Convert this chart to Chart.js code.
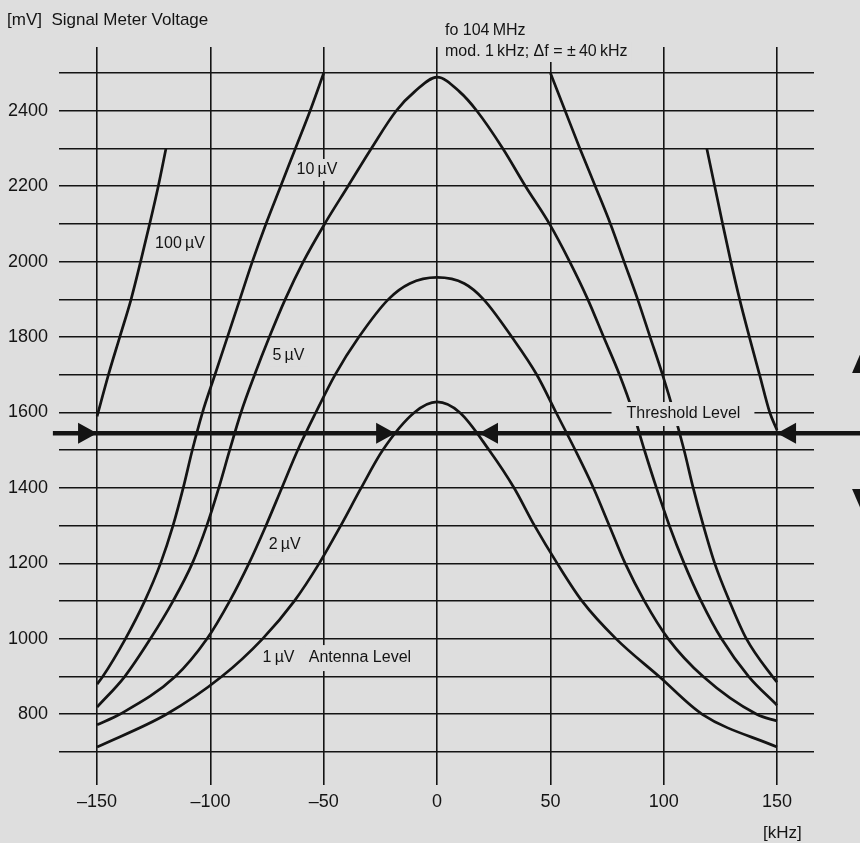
<!DOCTYPE html>
<html>
<head>
<meta charset="utf-8">
<title>Signal Meter Voltage</title>
<script src="https://cdn.jsdelivr.net/npm/chart.js@4.4.1/dist/chart.umd.min.js"></script>
<style>
  html, body { margin: 0; padding: 0; background: #dedede; }
  #chart { display: block; }
</style>
</head>
<body>
<canvas id="chart" width="860" height="843"></canvas>
<script>
// axis ticks
const xTicks = [-150, -100, -50, 0, 50, 100, 150];
const yGrid = [700, 800, 900, 1000, 1100, 1200, 1300, 1400, 1500, 1600, 1700, 1800, 1900, 2000, 2100, 2200, 2300, 2400, 2500];
const yLabels = [800, 1000, 1200, 1400, 1600, 1800, 2000, 2200, 2400];

// curves as (kHz, mV) pairs
const uv1Khz = [-150, -119.4, -95, -77, -63, -52, -42.5, -33.5, -24, -10, 0, 10, 23, 34, 43, 53, 64, 79, 98, 117, 150];
const uv1Mv = [713, 800, 900, 1000, 1100, 1200, 1300, 1400, 1500, 1600, 1628, 1600, 1500, 1400, 1300, 1200, 1100, 1000, 900, 800, 713];

const uv2Khz = [-150, -140, -115.5, -101.5, -91.5, -83, -75.5, -68.5, -61.5, -53.5, -45, -34.5, -21.5, -12, 0, 12, 20.5, 33, 44, 52.5, 61, 69, 76, 83, 91.5, 102, 117.4, 141, 150];
const uv2Mv = [772, 800, 900, 1000, 1100, 1200, 1300, 1400, 1500, 1600, 1700, 1800, 1900, 1942, 1958, 1942, 1900, 1800, 1700, 1600, 1500, 1400, 1300, 1200, 1100, 1000, 900, 800, 782];

const uv5Khz = [-150, -137.8, -126.5, -116.5, -108, -101.6, -96.3, -91.5, -86.5, -80.5, -74, -67, -59, -49.6, -39.3, -29, -18, -10, 0, 10, 17.5, 29, 39, 49.6, 58.5, 66.5, 73.5, 80.5, 86.5, 91.5, 96.8, 102.5, 109, 116.5, 125.5, 137.5, 150];
const uv5Mv = [819, 900, 1000, 1100, 1200, 1300, 1400, 1500, 1600, 1700, 1800, 1900, 2000, 2100, 2200, 2300, 2400, 2450, 2489, 2450, 2400, 2300, 2200, 2100, 2000, 1900, 1800, 1700, 1600, 1500, 1400, 1300, 1200, 1100, 1000, 900, 824];

// 10 µV runs off the top of the grid, so it is two pieces
const uv10LeftKhz = [-150, -147.5, -137.5, -129, -122, -116.5, -112, -108, -103.5, -98, -92.5, -87, -81.5, -75.5, -69, -62.5, -56, -50];
const uv10LeftMv = [880, 900, 1000, 1100, 1200, 1300, 1400, 1500, 1600, 1700, 1800, 1900, 2000, 2100, 2200, 2300, 2400, 2500];
const uv10RightKhz = [50, 56.5, 63, 69.8, 76.5, 82.5, 88.5, 94, 99.5, 104.5, 109, 113, 117.5, 122.5, 129, 136.5, 148, 150];
const uv10RightMv = [2500, 2400, 2300, 2200, 2100, 2000, 1900, 1800, 1700, 1600, 1500, 1400, 1300, 1200, 1100, 1000, 900, 885];

const uv100LeftKhz = [-150, -145, -140, -135, -130.8, -126.8, -123, -119.6];
const uv100LeftMv = [1590, 1700, 1800, 1900, 2000, 2100, 2200, 2300];
const uv100RightKhz = [119, 122.5, 126, 129.6, 133.5, 137.8, 142.3, 146.8, 150];
const uv100RightMv = [2300, 2200, 2100, 2000, 1900, 1800, 1700, 1600, 1553];

const thresholdMv = 1545;
const thresholdArrowsKhz = [-150, -18.5, 18.5, 150];
const thresholdArrowsDir = [1, 1, -1, -1];

const FONT = '"Liberation Sans", Arial, sans-serif';
const INK = '#141414';
const PAPER = '#dedede';

function series(khz, mv) {
  return khz.map((x, i) => ({ x, y: mv[i] }));
}

function curve(label, khz, mv) {
  return {
    label,
    data: series(khz, mv),
    borderColor: INK,
    borderWidth: 2.7,
    pointRadius: 0,
    fill: false,
    cubicInterpolationMode: 'monotone',
  };
}

function boxedText(ctx, text, x, y, padL = 3, padR = 3, halfH = 11) {
  const w = ctx.measureText(text).width;
  ctx.fillStyle = PAPER;
  ctx.fillRect(x - padL, y - halfH, w + padL + padR, halfH * 2);
  ctx.fillStyle = INK;
  ctx.fillText(text, x, y);
}

function arrowHead(ctx, tipX, tipY, dx, dy, len, half) {
  // dx/dy: unit direction the arrow points to
  const bx = tipX - dx * len, by = tipY - dy * len;
  ctx.beginPath();
  ctx.moveTo(tipX, tipY);
  ctx.lineTo(bx - dy * half, by + dx * half);
  ctx.lineTo(bx + dy * half, by - dx * half);
  ctx.closePath();
  ctx.fill();
}

const paperPlugin = {
  id: 'paper',
  beforeDraw(chart) {
    const { ctx, width, height } = chart;
    ctx.save();
    ctx.fillStyle = PAPER;
    ctx.fillRect(0, 0, width, height);
    ctx.restore();
  },
};

const notesPlugin = {
  id: 'notes',
  afterDatasetsDraw(chart) {
    const { ctx, width } = chart;
    const sx = chart.scales.x, sy = chart.scales.y;
    const px = (v) => sx.getPixelForValue(v);
    const py = (v) => sy.getPixelForValue(v);
    ctx.save();
    ctx.font = `16px ${FONT}`;
    ctx.textBaseline = 'middle';
    ctx.textAlign = 'left';

    // curve labels
    boxedText(ctx, '100\u2009µV', px(-124.4), py(2047));
    boxedText(ctx, '10\u2009µV', px(-62), py(2243));
    boxedText(ctx, '5\u2009µV', px(-72.6), py(1752));
    boxedText(ctx, '2\u2009µV', px(-74.3), py(1249));
    boxedText(ctx, '1\u2009µV', px(-77), py(949));
    boxedText(ctx, 'Antenna Level', px(-56.6), py(949), 3, 3, 13);
    boxedText(ctx, 'Threshold Level', px(83.6), py(1596), 15, 14, 12);

    // threshold line with arrows
    const ty = py(thresholdMv);
    ctx.strokeStyle = INK;
    ctx.fillStyle = INK;
    ctx.lineWidth = 4.5;
    ctx.beginPath();
    ctx.moveTo(px(-169.5), ty);
    ctx.lineTo(width, ty);
    ctx.stroke();
    thresholdArrowsKhz.forEach((k, i) => arrowHead(ctx, px(k), ty, thresholdArrowsDir[i], 0, 19, 10.5));

    // adjustment range arrow at the right edge
    const ax = px(187.5);
    ctx.lineWidth = 4;
    ctx.beginPath();
    ctx.moveTo(ax, py(1700));
    ctx.lineTo(ax, py(1400));
    ctx.stroke();
    arrowHead(ctx, ax, py(1766), 0, -1, 23, 10);
    arrowHead(ctx, ax, py(1336), 0, 1, 23, 10);

    // headings
    ctx.font = `17px ${FONT}`;
    ctx.fillStyle = INK;
    ctx.fillText('[mV]  Signal Meter Voltage', 7, 20);
    ctx.font = `16px ${FONT}`;
    boxedText(ctx, 'fo 104\u2009MHz', 445, 31, 2, 2, 9);
    boxedText(ctx, 'mod. 1\u2009kHz; \u0394f = \u00b1\u200940\u2009kHz', 445, 52, 2, 4, 10);
    ctx.font = `17px ${FONT}`;
    ctx.fillStyle = INK;
    ctx.fillText('[kHz]', 763, 833);
    ctx.restore();
  },
};

new Chart(document.getElementById('chart'), {
  type: 'line',
  data: {
    datasets: [
      curve('1 µV', uv1Khz, uv1Mv),
      curve('2 µV', uv2Khz, uv2Mv),
      curve('5 µV', uv5Khz, uv5Mv),
      curve('10 µV', uv10LeftKhz, uv10LeftMv),
      curve('10 µV ', uv10RightKhz, uv10RightMv),
      curve('100 µV', uv100LeftKhz, uv100LeftMv),
      curve('100 µV ', uv100RightKhz, uv100RightMv),
    ],
  },
  options: {
    responsive: false,
    devicePixelRatio: 1,
    animation: false,
    layout: { padding: { top: 47, right: 46, left: 0, bottom: 0 } },
    plugins: { legend: { display: false }, tooltip: { enabled: false } },
    scales: {
      x: {
        type: 'linear',
        min: -166.8,
        max: 166.3,
        afterBuildTicks: (axis) => { axis.ticks = xTicks.map((v) => ({ value: v })); },
        afterFit: (axis) => { axis.height = 58; },
        border: { display: false },
        grid: { color: INK, lineWidth: 1.6, drawTicks: false },
        ticks: {
          autoSkip: false,
          maxRotation: 0,
          padding: 6,
          color: INK,
          font: { family: FONT, size: 18 },
          callback: (v) => (v < 0 ? '\u2013' + Math.abs(v) : String(v)),
        },
      },
      y: {
        type: 'linear',
        min: 612.5,
        max: 2569,
        afterBuildTicks: (axis) => { axis.ticks = yGrid.map((v) => ({ value: v })); },
        afterFit: (axis) => { axis.width = 59; },
        border: { display: false },
        grid: { color: INK, lineWidth: 1.6, drawTicks: false },
        ticks: {
          autoSkip: false,
          padding: 11,
          color: INK,
          font: { family: FONT, size: 18 },
          callback: (v) => (yLabels.includes(v) ? String(v) : ''),
        },
      },
    },
  },
  plugins: [paperPlugin, notesPlugin],
});
</script>
</body>
</html>
